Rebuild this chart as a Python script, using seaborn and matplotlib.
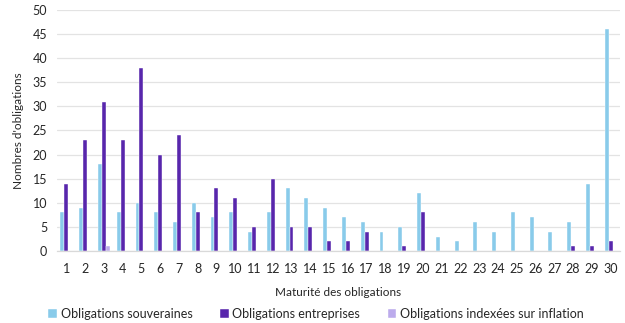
import matplotlib
matplotlib.use("Agg")
import matplotlib.pyplot as plt
import seaborn as sns
import pandas as pd

maturites = list(range(1, 31))
souveraines = [8, 9, 18, 8, 10, 8, 6, 10, 7, 8, 4, 8, 13, 11, 9, 7, 6, 4, 5, 12,
               3, 2, 6, 4, 8, 7, 4, 6, 14, 46]
entreprises = [14, 23, 31, 23, 38, 20, 24, 8, 13, 11, 5, 15, 5, 5, 2, 2, 4, 0, 1, 8,
               0, 0, 0, 0, 0, 0, 0, 1, 1, 2]
indexees = [0, 0, 1, 0, 0, 0, 0, 0, 0, 0, 0, 0, 0, 0, 0, 0, 0, 0, 0, 0,
            0, 0, 0, 0, 0, 0, 0, 0, 0, 0]
series = ["Obligations souveraines", "Obligations entreprises",
          "Obligations indexées sur inflation"]
couleurs = ["#79d1fa", "#5210c2", "#b7a0f7"]

df = pd.DataFrame({
    "Maturité": [str(m) for m in maturites] * 3,
    "Nombre": souveraines + entreprises + indexees,
    "Type": [series[0]] * 30 + [series[1]] * 30 + [series[2]] * 30,
})

sns.set_theme(style="white")
plt.rcParams["font.family"] = ["Lato", "DejaVu Sans"]

fig = plt.figure(figsize=(6.25, 3.23), dpi=100)
ax = fig.add_axes([0.091, 0.223, 0.901, 0.746])

sns.barplot(data=df, x="Maturité", y="Nombre", hue="Type",
            palette=couleurs, width=0.62, gap=0.0, ax=ax,
            edgecolor="white", linewidth=0.3, legend=True)

ax.set_ylim(0, 50)
ax.set_xlim(-0.5, 29.5)
ax.set_yticks(range(0, 51, 5))
ax.yaxis.grid(True, color="#e3e3e3", linewidth=0.9)
ax.set_axisbelow(True)
for s in ["top", "right", "left"]:
    ax.spines[s].set_visible(False)
ax.spines["bottom"].set_color("#d9d9d9")
ax.spines["bottom"].set_linewidth(0.9)
ax.tick_params(axis="x", length=0, labelsize=9, colors="#262626", pad=9)
ax.tick_params(axis="y", length=0, labelsize=9, colors="#262626", pad=7)
ax.set_xlabel("Maturité des obligations", fontsize=8.5, color="#262626", labelpad=8)
ax.set_ylabel("Nombres d'obligations", fontsize=8.5, color="#262626", labelpad=6)

handles, labels = ax.get_legend_handles_labels()
ax.legend(handles, labels, loc="center", bbox_to_anchor=(0.46, -0.262),
          ncol=3, frameon=False, fontsize=9, handlelength=0.7, handleheight=0.7,
          handletextpad=0.3, columnspacing=2.2, labelcolor="#262626")

fig.savefig("out.png", dpi=100)
